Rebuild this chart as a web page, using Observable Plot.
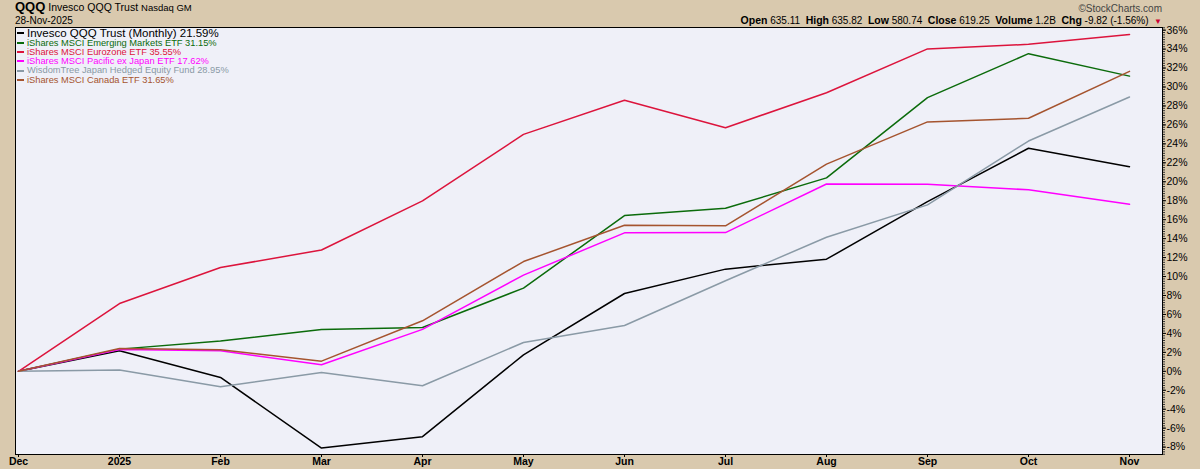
<!DOCTYPE html>
<html>
<head>
<meta charset="utf-8">
<script src="https://cdn.jsdelivr.net/npm/d3@7"></script>
<script src="https://cdn.jsdelivr.net/npm/@observablehq/plot@0.6"></script>
<style>
  html, body { margin: 0; padding: 0; background: #d9c9ae; }
  #wrap { position: relative; width: 1200px; height: 469px; overflow: hidden; background: #d9c9ae; font-family: "Liberation Sans", Arial, sans-serif; }
  .abs { position: absolute; white-space: nowrap; }
  #title { left: 15px; top: 0px; font-size: 10.5px; line-height: 14px; color: #000; }
  #title b { font-size: 13px; }
  #title .ex { font-size: 9.5px; }
  #date { left: 15px; top: 15px; font-size: 10px; line-height: 11px; color: #000; }
  #copy { right: 38px; top: 3px; font-size: 10px; line-height: 11px; color: #444; }
  #stats { right: 38px; top: 15px; font-size: 10px; line-height: 11px; color: #000; }
  #stats b { font-weight: bold; font-size: 10.5px; }
  #stats .tri { color: #cc0033; font-size: 8px; }
  #legend { left: 17px; top: 27.5px; }
  .row { position: relative; height: 9.33px; line-height: 9.33px; font-size: 9.3px; }
  .row.first { font-size: 11.5px; height: 11px; line-height: 11px; }
  .row .mk { display: inline-block; width: 7px; height: 2px; vertical-align: middle; margin-right: 3px; margin-top: -1px; }
</style>
</head>
<body>
<div id="wrap">
  <div id="chart"></div>
  <div class="abs" id="title"><b>QQQ</b> Invesco QQQ Trust <span class="ex">Nasdaq GM</span></div>
  <div class="abs" id="date">28-Nov-2025</div>
  <div class="abs" id="copy">&#169;StockCharts.com</div>
  <div class="abs" id="stats"></div>
  <div class="abs" id="legend"></div>
</div>
<script>
// ---- data ----
const months = ["Dec","2025","Feb","Mar","Apr","May","Jun","Jul","Aug","Sep","Oct","Nov"];
const qqq = [0, 2.16, -0.65, -8.1, -6.9, 1.74, 8.21, 10.78, 11.83, 17.9, 23.54, 21.59];
const eem = [0, 2.34, 3.19, 4.41, 4.62, 8.78, 16.43, 17.2, 20.41, 28.88, 33.52, 31.15];
const ezu = [0, 7.15, 10.95, 12.8, 17.98, 25.0, 28.6, 25.7, 29.4, 34.02, 34.5, 35.55];
const epp = [0, 2.3, 2.16, 0.69, 4.42, 10.15, 14.61, 14.64, 19.77, 19.75, 19.15, 17.62];
const dxj = [0, 0.13, -1.63, -0.12, -1.52, 3.04, 4.83, 9.55, 14.15, 17.56, 24.3, 28.95];
const ewc = [0, 2.4, 2.27, 1.07, 5.33, 11.58, 15.42, 15.35, 21.86, 26.32, 26.7, 31.65];

const seriesNames = [
  "Invesco QQQ Trust (Monthly)",
  "iShares MSCI Emerging Markets ETF",
  "iShares MSCI Eurozone ETF",
  "iShares MSCI Pacific ex Japan ETF",
  "WisdomTree Japan Hedged Equity Fund",
  "iShares MSCI Canada ETF"
];
const seriesValues = [qqq, eem, ezu, epp, dxj, ewc];
const seriesColors = ["#000000", "#0b6b0b", "#dc143c", "#ff00ff", "#8a9aa6", "#a5542f"];
const yTicks = [-8,-6,-4,-2,0,2,4,6,8,10,12,14,16,18,20,22,24,26,28,30,32,34,36];
const statLabels = ["Open","High","Low","Close","Volume","Chg"];
const statValues = ["635.11","635.82","580.74","619.25","1.2B","-9.82 (-1.56%)"];

// ---- build table ----
const rows = [];
seriesNames.forEach((name, i) => {
  seriesValues[i].forEach((v, j) => rows.push({series: name, month: months[j], value: v}));
});
const minorTicks = d3.range(-8.75, 36.26, 0.25);

const chart = Plot.plot({
  width: 1200,
  height: 469,
  marginLeft: 15,
  marginRight: 38,
  marginTop: 27,
  marginBottom: 15,
  style: {background: "transparent", fontFamily: "Liberation Sans, Arial, sans-serif", fontSize: "10px", color: "#000", overflow: "visible"},
  x: {type: "point", domain: months, range: [15.5, 1130.5], padding: 0, label: null},
  y: {domain: [-8.78, 36.28], label: null},
  color: {domain: seriesNames, range: seriesColors},
  marks: [
    Plot.frame({fill: "#eff0f8", stroke: "#000", strokeWidth: 1}),
    Plot.axisY({anchor: "right", ticks: minorTicks, tickSize: 2, text: null, label: null, stroke: "#333", strokeWidth: 1}),
    Plot.axisY({anchor: "right", ticks: yTicks, tickSize: 3, tickPadding: 1, tickFormat: d => d + "%", fontSize: 10.5, label: null}),
    Plot.axisX({anchor: "bottom", ticks: months, tickSize: 3, tickPadding: 0, fontWeight: "bold", fontSize: 10.5, label: null}),
    Plot.line(rows, {x: "month", y: "value", z: "series", stroke: "series", strokeWidth: 1.5})
  ]
});
document.getElementById("chart").appendChild(chart);

// legend
const lg = document.getElementById("legend");
seriesNames.forEach((name, i) => {
  const vals = seriesValues[i];
  const r = document.createElement("div");
  r.className = "row" + (i === 0 ? " first" : "");
  r.style.color = seriesColors[i];
  const mk = document.createElement("span");
  mk.className = "mk";
  mk.style.background = seriesColors[i];
  r.appendChild(mk);
  r.appendChild(document.createTextNode(name + " " + vals[vals.length - 1].toFixed(2) + "%"));
  lg.appendChild(r);
});

// stats line
const st = document.getElementById("stats");
statLabels.forEach((l, i) => {
  const b = document.createElement("b");
  b.textContent = l;
  st.appendChild(b);
  st.appendChild(document.createTextNode(" " + statValues[i] + "  "));
});
const tri = document.createElement("span");
tri.className = "tri";
tri.textContent = "▼";
st.appendChild(tri);
st.style.whiteSpace = "pre";
</script>
</body>
</html>
